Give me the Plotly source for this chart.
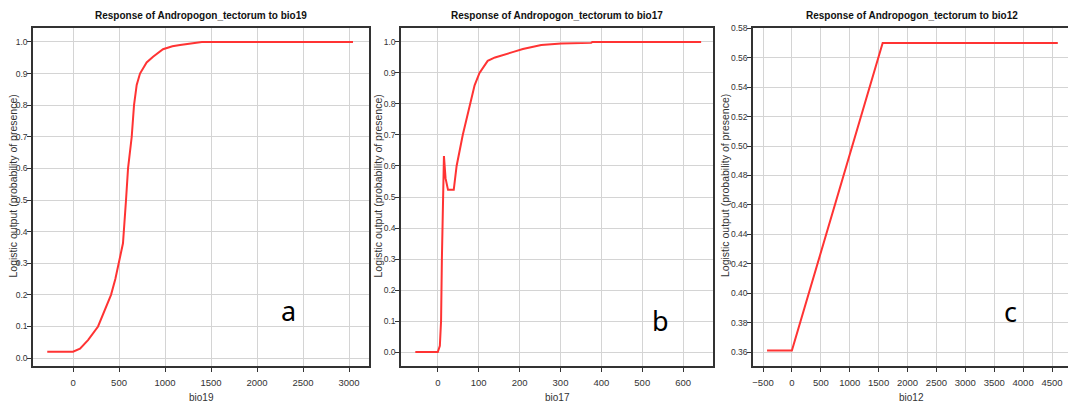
import plotly.graph_objects as go

# ---- data ----
a_x = [-280, 0, 76, 163, 272, 350, 413, 460, 500, 543, 576, 598, 638, 663, 692, 728, 800, 870, 978, 1080, 1163, 1250, 1348, 1400, 3043]
a_y = [0.02, 0.02, 0.03, 0.057, 0.1, 0.155, 0.2, 0.25, 0.3, 0.363, 0.5, 0.6, 0.7, 0.8, 0.864, 0.9, 0.935, 0.953, 0.977, 0.986, 0.99, 0.994, 0.997, 1.0, 1.0]

b_x = [-55, 0, 5, 8, 10, 12, 15, 19, 25, 39, 46, 61, 78, 90, 102, 122, 140, 163, 185, 208, 230, 253, 302, 340, 375, 378, 644]
b_y = [0.0, 0.0, 0.02, 0.1, 0.3, 0.45, 0.632, 0.56, 0.523, 0.523, 0.6, 0.7, 0.8, 0.86, 0.9, 0.939, 0.95, 0.958, 0.968, 0.977, 0.984, 0.99, 0.995, 0.997, 0.997, 1.0, 1.0]

c_x = [-430, 0, 1570, 4600]
c_y = [0.361, 0.361, 0.57, 0.57]

titles = ["Response of Andropogon_tectorum to bio19",
          "Response of Andropogon_tectorum to bio17",
          "Response of Andropogon_tectorum to bio12"]
x_titles = ["bio19", "bio17", "bio12"]
y_title = "Logistic output (probability of presence)"
panel_letters = ["a", "b", "c"]

OFF = 8  # page body margin
W, H = 1076 - OFF, 407 - OFF
RED = "#ff3333"
SANS = "Liberation Sans, Arial, sans-serif"


def px(x):
    return (x - OFF) / W


def py(y):
    return 1 - (y - OFF) / H


fig = go.Figure()
series = [(a_x, a_y), (b_x, b_y), (c_x, c_y)]
for i, (xs, ys) in enumerate(series):
    ax = "" if i == 0 else str(i + 1)
    fig.add_trace(go.Scatter(x=xs, y=ys, mode="lines",
                             line=dict(color=RED, width=2),
                             xaxis="x" + ax, yaxis="y" + ax, showlegend=False))

# plot-area pixel boxes (page pixels)
boxes = [(33, 369), (401, 713), (753, 1070)]
top_px, bot_px = 28, 366
ydom = [py(bot_px), py(top_px)]

xranges = [[-435, 3217], [-90, 673], [-673, 4811]]
xdt = [500, 100, 500]
xt0 = [0, 0, -500]
yranges = [[-0.025, 1.044], [-0.045, 1.045], [0.3505, 0.5802]]
ydt = [0.1, 0.1, 0.02]
yt0 = [0.0, 0.0, 0.36]
yfmt = [".1f", ".1f", ".2f"]

axis_common = dict(showgrid=True, gridcolor="#d4d4d4", gridwidth=1,
                   showline=True, linecolor="#333333", linewidth=1.5,
                   mirror=True, ticks="outside", ticklen=4, tickcolor="#333333",
                   zeroline=False, automargin=False)

layout = dict(width=W, height=H, margin=dict(l=0, r=0, t=0, b=0, autoexpand=False),
              paper_bgcolor="white", plot_bgcolor="white")
annotations = []
y_title_x = [12.5, 377.5, 725]
letter_pos = [(288, 310), (660, 320), (1010, 311)]
for i in range(3):
    ax = "" if i == 0 else str(i + 1)
    l, r = boxes[i]
    layout["xaxis" + ax] = dict(domain=[px(l), px(r)], range=xranges[i],
                                tick0=xt0[i], dtick=xdt[i], anchor="y" + ax,
                                ticklabelstandoff=3,
                                tickfont=dict(family=SANS, size=9.5, color="#333333"),
                                **axis_common)
    layout["yaxis" + ax] = dict(domain=ydom, range=yranges[i],
                                tick0=yt0[i], dtick=ydt[i], tickformat=yfmt[i],
                                anchor="x" + ax, ticklabelstandoff=-2,
                                tickfont=dict(family=SANS, size=8.5, color="#333333"),
                                **axis_common)
    cx = px((l + r) / 2)
    annotations.append(dict(text="<b>" + titles[i] + "</b>", x=cx, y=py(15),
                            xref="paper", yref="paper", showarrow=False,
                            xanchor="center", yanchor="middle",
                            font=dict(family=SANS, size=10, color="#111111")))
    annotations.append(dict(text=x_titles[i], x=cx, y=py(397),
                            xref="paper", yref="paper", showarrow=False,
                            xanchor="center", yanchor="middle",
                            font=dict(family=SANS, size=10, color="#333333")))
    annotations.append(dict(text=y_title, x=px(y_title_x[i]), y=py(186),
                            xref="paper", yref="paper", showarrow=False, textangle=-90,
                            xanchor="center", yanchor="middle",
                            font=dict(family=SANS, size=10.5, color="#333333")))
    lx, ly = letter_pos[i]
    annotations.append(dict(text=panel_letters[i], x=px(lx), y=py(ly),
                            xref="paper", yref="paper", showarrow=False,
                            xanchor="center", yanchor="middle",
                            font=dict(family="Noto Sans, Open Sans, sans-serif", size=27, color="black")))
layout["annotations"] = annotations
fig.update_layout(**layout)
fig.write_html("out.html")
